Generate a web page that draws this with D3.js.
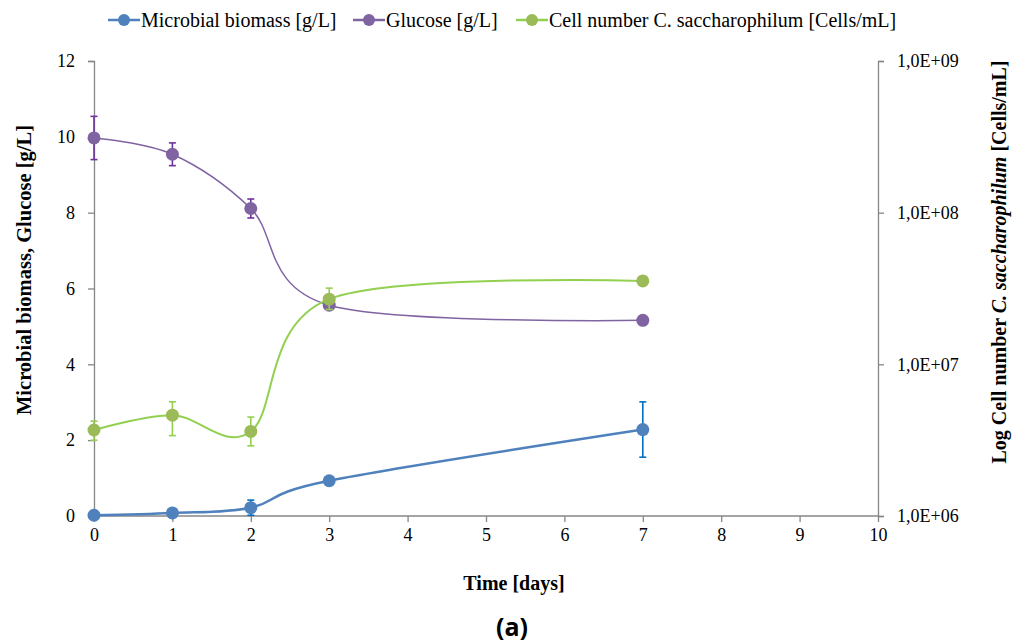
<!DOCTYPE html>
<html>
<head>
<meta charset="utf-8">
<script src="https://cdn.jsdelivr.net/npm/d3@7"></script>
<style>
  body { margin: 0; background: #fff; }
  svg text { font-family: "Liberation Serif", "Times New Roman", serif; }
</style>
</head>
<body>
<svg id="chart" width="1025" height="643"></svg>
<script>
// data
const days = [0, 1, 2, 3, 7]
const biomass = [0.02, 0.08, 0.22, 0.93, 2.28]
const biomassErr = [0, 0, 0.2, 0.08, 0.73]
const glucose = [9.97, 9.54, 8.11, 5.56, 5.16]
const glucoseErr = [0.57, 0.3, 0.25, 0.1, 0]
const cells = [3.69e6, 4.62e6, 3.61e6, 2.69e7, 3.55e7]
const cellsHi = [4.22e6, 5.66e6, 4.49e6, 3.18e7, null]
const cellsLo = [3.16e6, 3.39e6, 2.90e6, 2.30e7, null]
const xTicks = [0, 1, 2, 3, 4, 5, 6, 7, 8, 9, 10]
const yTicks = [0, 2, 4, 6, 8, 10, 12]
const rTicks = [1e6, 1e7, 1e8, 1e9]
const rTickLabels = ['1,0E+06', '1,0E+07', '1,0E+08', '1,0E+09']

const AXIS = '#868686'
const SERIF = 'Liberation Serif'
const svg = d3.select('#chart')
const x = d3.scaleLinear().domain([0, 10]).range([94, 878])
const y = d3.scaleLinear().domain([0, 12]).range([516, 61])
const yR = d3.scaleLog().domain([1e6, 1e9]).range([516, 61])

// axes
const gx = svg.append('g').attr('transform', 'translate(0,516)')
    .call(d3.axisBottom(x).tickValues(xTicks).tickSize(6).tickPadding(6))
const gy = svg.append('g').attr('transform', 'translate(94,0)')
    .call(d3.axisLeft(y).tickValues(yTicks).tickSize(6).tickPadding(13))
const gr = svg.append('g').attr('transform', 'translate(878,0)')
    .call(d3.axisRight(yR).tickValues(rTicks).tickFormat((d, i) => rTickLabels[i]).tickSize(6).tickPadding(13))
;[gx, gy, gr].forEach(g => {
    g.attr('font-family', SERIF).attr('font-size', 18)
    g.select('.domain').attr('stroke', AXIS).attr('stroke-width', 1.3)
    g.selectAll('.tick line').attr('stroke', AXIS).attr('stroke-width', 1.3)
    g.selectAll('.tick text').attr('fill', '#000')
})
gx.select('.domain').attr('d', 'M94,0H878')

// axis titles
svg.append('text').attr('x', 514).attr('y', 590).attr('text-anchor', 'middle')
    .attr('font-size', 20).attr('font-weight', 'bold').text('Time [days]')
svg.append('text').attr('transform', 'translate(31,270) rotate(-90)').attr('text-anchor', 'middle')
    .attr('font-size', 20.5).attr('font-weight', 'bold').text('Microbial biomass, Glucose [g/L]')
const rt = svg.append('text').attr('transform', 'translate(1006,262) rotate(-90)').attr('text-anchor', 'middle')
    .attr('font-size', 20).attr('font-weight', 'bold')
rt.append('tspan').text('Log Cell number ')
rt.append('tspan').attr('font-style', 'italic').text('C. saccharophilum')
rt.append('tspan').text(' [Cells/mL]')

svg.append('text').attr('x', 512).attr('y', 636).attr('text-anchor', 'middle')
    .style('font-family', '"Open Sans", "DejaVu Sans", sans-serif').attr('font-size', 25)
    .attr('font-weight', 'bold').text('(a)')

// series
const curve = d3.curveCatmullRom.alpha(0)
const series = [
    {vals: biomass, scale: y, line: '#4F81BD', dot: '#4F81BD', err: '#0070C0', w: 2.5,
        hi: biomass.map((v, i) => v + biomassErr[i]), lo: biomass.map((v, i) => v - biomassErr[i])},
    {vals: glucose, scale: y, line: '#8064A2', dot: '#8064A2', err: '#7030A0', w: 1.5,
        hi: glucose.map((v, i) => v + glucoseErr[i]), lo: glucose.map((v, i) => v - glucoseErr[i])},
    {vals: cells, scale: yR, line: '#92D050', dot: '#9BBB59', err: '#92D050', w: 2,
        hi: cellsHi, lo: cellsLo}
]

series.forEach(s => {
    const line = d3.line().x((d, i) => x(days[i])).y(d => s.scale(d)).curve(curve)
    svg.append('path').attr('d', line(s.vals)).attr('fill', 'none')
        .attr('stroke', s.line).attr('stroke-width', s.w)
    days.forEach((d, i) => {
        if (s.hi[i] == null || s.hi[i] === s.lo[i]) return
        const y1 = s.scale(s.hi[i]), y2 = s.scale(s.lo[i])
        const g = svg.append('g').attr('stroke', s.err).attr('stroke-width', 1.6)
        g.append('line').attr('x1', x(d)).attr('x2', x(d)).attr('y1', y1).attr('y2', y2)
        g.append('line').attr('x1', x(d) - 3.5).attr('x2', x(d) + 3.5).attr('y1', y1).attr('y2', y1)
        g.append('line').attr('x1', x(d) - 3.5).attr('x2', x(d) + 3.5).attr('y1', y2).attr('y2', y2)
    })
    svg.selectAll(null).data(s.vals).enter().append('circle')
        .attr('cx', (d, i) => x(days[i])).attr('cy', d => s.scale(d))
        .attr('r', 6.5).attr('fill', s.dot)
})

// legend
const legend = [
    {name: 'Microbial biomass [g/L]', line: '#4F81BD', dot: '#4F81BD', x: 108},
    {name: 'Glucose [g/L]', line: '#8064A2', dot: '#8064A2', x: 353},
    {name: 'Cell number C. saccharophilum [Cells/mL]', line: '#92D050', dot: '#9BBB59', x: 516}
]
legend.forEach(l => {
    svg.append('line').attr('x1', l.x).attr('x2', l.x + 32).attr('y1', 20).attr('y2', 20)
        .attr('stroke', l.line).attr('stroke-width', 2.5)
    svg.append('circle').attr('cx', l.x + 16).attr('cy', 20).attr('r', 6).attr('fill', l.dot)
    svg.append('text').attr('x', l.x + 33).attr('y', 27).attr('font-size', 20).text(l.name)
})
</script>
</body>
</html>
